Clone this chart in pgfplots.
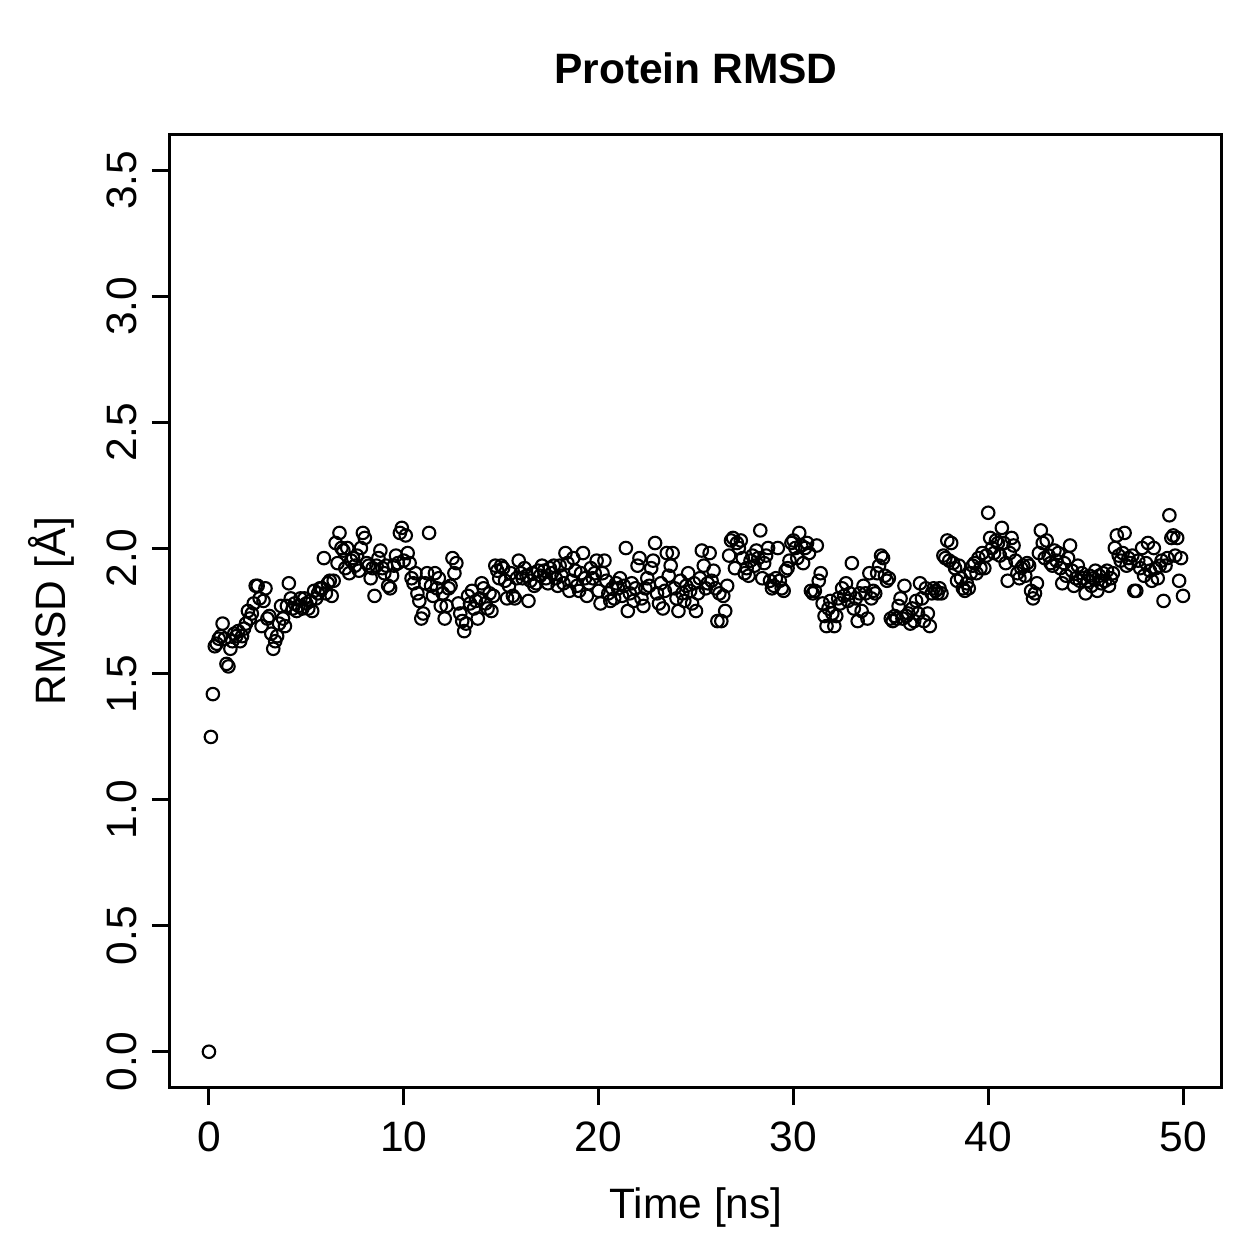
\documentclass[border=0pt]{standalone}
\usepackage{pgfplots}
\pgfplotsset{compat=1.18}
\usepackage{fontspec}
\setmainfont{Liberation Sans}
\begin{document}
\fontsize{17}{20}\selectfont
\begin{tikzpicture}
\path[use as bounding box] (-68pt,-68.8pt) rectangle (435.6pt,434.8pt);
\begin{axis}[
  at={(0,0)}, anchor=south west,
  scale only axis, width=420.8pt, height=380.8pt,
  xmin=-2, xmax=52, ymin=-0.14, ymax=3.64,
  xtick={0,10,20,30,40,50},
  ytick={0,0.5,1,1.5,2,2.5,3,3.5},
  yticklabels={0.0,0.5,1.0,1.5,2.0,2.5,3.0,3.5},
  axis line style={line width=1.2pt},
  tick style={line width=1.2pt, black},
  major tick length=7.2pt,
  tick align=outside,
  xtick pos=bottom, ytick pos=left,
  /pgf/number format/assume math mode=true,
  tick label style={font=\fontsize{17}{20}\selectfont},
  xticklabel style={anchor=north, yshift=-1pt},
  yticklabel style={rotate=90, anchor=south, xshift=-4pt},
  title={\textbf{Protein RMSD}},
  title style={at={(axis description cs:0.5,1.0388)}, anchor=base, font=\fontsize{17}{20}\selectfont},
  xlabel={Time [ns]},
  xlabel style={at={(axis description cs:0.5,-0.1378)}, anchor=base, font=\fontsize{17}{20}\selectfont},
  ylabel={RMSD [Å]},
  ylabel style={at={(axis description cs:-0.0989,0.5)}, anchor=base, font=\fontsize{17}{20}\selectfont},
]
\addplot[only marks, mark=o, mark size=2.5pt, mark options={line width=0.85pt, black}] coordinates {
(0,0)(0.1,1.25)(0.2,1.42)(0.3,1.61)(0.4,1.62)(0.5,1.64)(0.6,1.65)(0.7,1.70)(0.8,1.64)(0.9,1.54)
(1.0,1.53)(1.1,1.60)(1.2,1.63)(1.3,1.66)(1.4,1.65)(1.5,1.67)(1.6,1.63)(1.7,1.65)(1.8,1.68)(1.9,1.70)
(2.0,1.75)(2.1,1.72)(2.2,1.74)(2.3,1.78)(2.4,1.85)(2.5,1.85)(2.6,1.80)(2.7,1.69)(2.8,1.79)(2.9,1.84)
(3.0,1.72)(3.1,1.73)(3.2,1.66)(3.3,1.60)(3.4,1.63)(3.5,1.65)(3.6,1.70)(3.7,1.77)(3.8,1.72)(3.9,1.69)
(4.0,1.77)(4.1,1.86)(4.2,1.80)(4.3,1.76)(4.4,1.78)(4.5,1.75)(4.6,1.77)(4.7,1.80)(4.8,1.76)(4.9,1.80)
(5.0,1.78)(5.1,1.76)(5.2,1.79)(5.3,1.75)(5.4,1.83)(5.5,1.80)(5.6,1.82)(5.7,1.84)(5.8,1.84)(5.9,1.96)
(6.0,1.82)(6.1,1.86)(6.2,1.87)(6.3,1.81)(6.4,1.87)(6.5,2.02)(6.6,1.94)(6.7,2.06)(6.8,2.00)(6.9,1.99)
(7.0,1.92)(7.1,2.00)(7.2,1.90)(7.3,1.95)(7.4,1.96)(7.5,1.93)(7.6,1.97)(7.7,1.91)(7.8,2.00)(7.9,2.06)
(8.0,2.04)(8.1,1.94)(8.2,1.93)(8.3,1.88)(8.4,1.92)(8.5,1.81)(8.6,1.93)(8.7,1.96)(8.8,1.99)(8.9,1.92)
(9.0,1.90)(9.1,1.93)(9.2,1.85)(9.3,1.84)(9.4,1.89)(9.5,1.93)(9.6,1.97)(9.7,1.94)(9.8,2.06)(9.9,2.08)
(10.0,1.95)(10.1,2.05)(10.2,1.98)(10.3,1.94)(10.4,1.88)(10.5,1.86)(10.6,1.90)(10.7,1.82)(10.8,1.79)(10.9,1.72)
(11.0,1.74)(11.1,1.86)(11.2,1.90)(11.3,2.06)(11.4,1.85)(11.5,1.81)(11.6,1.90)(11.7,1.84)(11.8,1.88)(11.9,1.77)
(12.0,1.82)(12.1,1.72)(12.2,1.77)(12.3,1.84)(12.4,1.85)(12.5,1.96)(12.6,1.90)(12.7,1.94)(12.8,1.78)(12.9,1.74)
(13.0,1.71)(13.1,1.67)(13.2,1.70)(13.3,1.81)(13.4,1.78)(13.5,1.83)(13.6,1.76)(13.7,1.79)(13.8,1.72)(13.9,1.80)
(14.0,1.86)(14.1,1.84)(14.2,1.78)(14.3,1.76)(14.4,1.82)(14.5,1.75)(14.6,1.81)(14.7,1.93)(14.8,1.91)(14.9,1.88)
(15.0,1.93)(15.1,1.92)(15.2,1.87)(15.3,1.80)(15.4,1.85)(15.5,1.90)(15.6,1.81)(15.7,1.80)(15.8,1.88)(15.9,1.95)
(16.0,1.90)(16.1,1.88)(16.2,1.92)(16.3,1.89)(16.4,1.79)(16.5,1.87)(16.6,1.90)(16.7,1.85)(16.8,1.86)(16.9,1.91)
(17.0,1.89)(17.1,1.93)(17.2,1.91)(17.3,1.88)(17.4,1.86)(17.5,1.92)(17.6,1.90)(17.7,1.93)(17.8,1.88)(17.9,1.85)
(18.0,1.93)(18.1,1.89)(18.2,1.86)(18.3,1.98)(18.4,1.94)(18.5,1.83)(18.6,1.87)(18.7,1.96)(18.8,1.91)(18.9,1.85)
(19.0,1.83)(19.1,1.90)(19.2,1.98)(19.3,1.88)(19.4,1.81)(19.5,1.86)(19.6,1.92)(19.7,1.88)(19.8,1.90)(19.9,1.95)
(20.0,1.83)(20.1,1.78)(20.2,1.90)(20.3,1.95)(20.4,1.87)(20.5,1.82)(20.6,1.79)(20.7,1.84)(20.8,1.80)(20.9,1.86)
(21.0,1.84)(21.1,1.88)(21.2,1.81)(21.3,1.85)(21.4,2.00)(21.5,1.75)(21.6,1.82)(21.7,1.86)(21.8,1.79)(21.9,1.84)
(22.0,1.93)(22.1,1.96)(22.2,1.80)(22.3,1.77)(22.4,1.84)(22.5,1.88)(22.6,1.85)(22.7,1.92)(22.8,1.95)(22.9,2.02)
(23.0,1.82)(23.1,1.78)(23.2,1.86)(23.3,1.76)(23.4,1.83)(23.5,1.98)(23.6,1.89)(23.7,1.93)(23.8,1.98)(23.9,1.84)
(24.0,1.80)(24.1,1.75)(24.2,1.87)(24.3,1.82)(24.4,1.79)(24.5,1.85)(24.6,1.90)(24.7,1.83)(24.8,1.78)(24.9,1.86)
(25.0,1.75)(25.1,1.82)(25.2,1.88)(25.3,1.99)(25.4,1.93)(25.5,1.84)(25.6,1.86)(25.7,1.98)(25.8,1.87)(25.9,1.91)
(26.0,1.84)(26.1,1.71)(26.2,1.82)(26.3,1.71)(26.4,1.81)(26.5,1.75)(26.6,1.85)(26.7,1.97)(26.8,2.03)(26.9,2.04)
(27.0,1.92)(27.1,2.02)(27.2,2.00)(27.3,2.03)(27.4,1.96)(27.5,1.90)(27.6,1.92)(27.7,1.89)(27.8,1.95)(27.9,1.97)
(28.0,1.93)(28.1,1.99)(28.2,1.96)(28.3,2.07)(28.4,1.88)(28.5,1.94)(28.6,1.97)(28.7,2.00)(28.8,1.87)(28.9,1.84)
(29.0,1.85)(29.1,1.88)(29.2,2.00)(29.3,1.87)(29.4,1.84)(29.5,1.83)(29.6,1.91)(29.7,1.92)(29.8,1.95)(29.9,2.02)
(30.0,2.03)(30.1,2.00)(30.2,1.96)(30.3,2.06)(30.4,2.01)(30.5,1.94)(30.6,2.00)(30.7,2.02)(30.8,1.98)(30.9,1.83)
(31.0,1.82)(31.1,1.83)(31.2,2.01)(31.3,1.87)(31.4,1.90)(31.5,1.78)(31.6,1.73)(31.7,1.69)(31.8,1.76)(31.9,1.79)
(32.0,1.74)(32.1,1.69)(32.2,1.73)(32.3,1.80)(32.4,1.78)(32.5,1.84)(32.6,1.81)(32.7,1.86)(32.8,1.79)(32.9,1.82)
(33.0,1.94)(33.1,1.76)(33.2,1.80)(33.3,1.71)(33.4,1.82)(33.5,1.75)(33.6,1.85)(33.7,1.82)(33.8,1.72)(33.9,1.90)
(34.0,1.80)(34.1,1.83)(34.2,1.82)(34.3,1.90)(34.4,1.93)(34.5,1.97)(34.6,1.96)(34.7,1.89)(34.8,1.87)(34.9,1.88)
(35.0,1.72)(35.1,1.71)(35.2,1.73)(35.3,1.72)(35.4,1.77)(35.5,1.80)(35.6,1.72)(35.7,1.85)(35.8,1.73)(35.9,1.74)
(36.0,1.70)(36.1,1.76)(36.2,1.71)(36.3,1.79)(36.4,1.74)(36.5,1.86)(36.6,1.80)(36.7,1.71)(36.8,1.84)(36.9,1.74)
(37.0,1.69)(37.1,1.82)(37.2,1.84)(37.3,1.83)(37.4,1.82)(37.5,1.84)(37.6,1.82)(37.7,1.97)(37.8,1.96)(37.9,2.03)
(38.0,1.95)(38.1,2.02)(38.2,1.94)(38.3,1.92)(38.4,1.87)(38.5,1.93)(38.6,1.88)(38.7,1.84)(38.8,1.83)(38.9,1.86)
(39.0,1.84)(39.1,1.90)(39.2,1.93)(39.3,1.94)(39.4,1.90)(39.5,1.96)(39.6,1.92)(39.7,1.98)(39.8,1.92)(39.9,1.97)
(40.0,2.14)(40.1,2.04)(40.2,2.00)(40.3,1.98)(40.4,2.03)(40.5,2.02)(40.6,1.97)(40.7,2.08)(40.8,2.02)(40.9,1.94)
(41.0,1.87)(41.1,1.98)(41.2,2.04)(41.3,2.01)(41.4,1.95)(41.5,1.90)(41.6,1.88)(41.7,1.92)(41.8,1.93)(41.9,1.89)
(42.0,1.94)(42.1,1.93)(42.2,1.83)(42.3,1.80)(42.4,1.82)(42.5,1.86)(42.6,1.98)(42.7,2.07)(42.8,2.02)(42.9,1.96)
(43.0,2.03)(43.1,1.97)(43.2,1.94)(43.3,1.93)(43.4,1.99)(43.5,1.95)(43.6,1.98)(43.7,1.92)(43.8,1.86)(43.9,1.94)
(44.0,1.89)(44.1,1.96)(44.2,2.01)(44.3,1.91)(44.4,1.85)(44.5,1.88)(44.6,1.93)(44.7,1.87)(44.8,1.90)(44.9,1.88)
(45.0,1.82)(45.1,1.87)(45.2,1.89)(45.3,1.85)(45.4,1.88)(45.5,1.91)(45.6,1.83)(45.7,1.89)(45.8,1.86)(45.9,1.90)
(46.0,1.87)(46.1,1.91)(46.2,1.85)(46.3,1.88)(46.4,1.90)(46.5,2.00)(46.6,2.05)(46.7,1.97)(46.8,1.95)(46.9,1.98)
(47.0,2.06)(47.1,1.93)(47.2,1.96)(47.3,1.94)(47.4,1.97)(47.5,1.83)(47.6,1.83)(47.7,1.95)(47.8,1.92)(47.9,2.00)
(48.0,1.89)(48.1,1.94)(48.2,2.02)(48.3,1.91)(48.4,1.87)(48.5,2.00)(48.6,1.92)(48.7,1.88)(48.8,1.93)(48.9,1.95)
(49.0,1.79)(49.1,1.93)(49.2,1.96)(49.3,2.13)(49.4,2.04)(49.5,2.05)(49.6,1.97)(49.7,2.04)(49.8,1.87)(49.9,1.96)
(50.0,1.81)
};
\end{axis}
\end{tikzpicture}
\end{document}
